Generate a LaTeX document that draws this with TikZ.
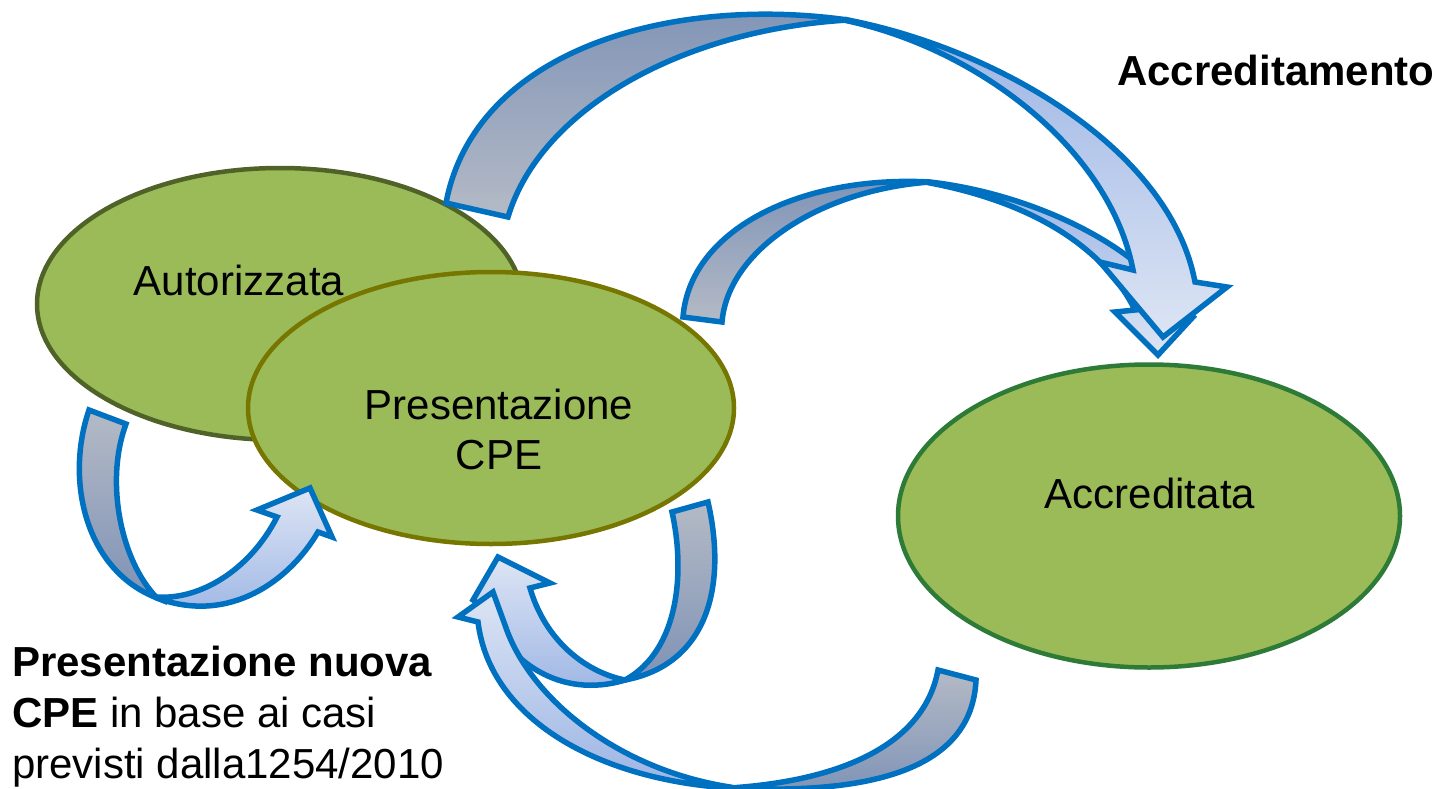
\documentclass[tikz,border=0pt]{standalone}
\usepackage{fontspec}
\setmainfont{Liberation Sans}
\usetikzlibrary{shapes.geometric}

\definecolor{stategreen}{HTML}{9BBB59}
\definecolor{autedge}{HTML}{4F6228}
\definecolor{cpeedge}{HTML}{767600}
\definecolor{accedge}{HTML}{2E7B38}
\definecolor{ribbonblue}{HTML}{0070C0}
\definecolor{backdark}{HTML}{7F93B6}
\definecolor{backlight}{HTML}{B4BAC6}
\definecolor{frontdark}{HTML}{9BB4E4}
\definecolor{frontlight}{HTML}{DDE5F4}

\tikzset{
  state/.style={ellipse, fill=stategreen, line width=4.5pt, minimum width=486pt, minimum height=272pt, inner sep=0pt},
  lbl/.style={font=\fontsize{42}{51}\selectfont, inner sep=0pt, anchor=base},
  ribbon/.style={draw=ribbonblue, line width=5.5pt, line join=miter}
}

\begin{document}
\begin{tikzpicture}[x=1pt, y=-1pt]

    % cornice dell'immagine (coordinate in pixel, y verso il basso)
    \useasboundingbox (0,0) rectangle (1440,789);

    % stati
    \node[state, draw=autedge] (autorizzata) at (280,304) {};
    \node[state, draw=cpeedge] (cpe) at (491,408) {};
    \node[state, draw=accedge, minimum width=502pt, minimum height=303pt] (accreditata) at (1149,516) {};

    % testi degli stati
    \node[lbl] (autlbl) at (239,295) {Autorizzata};
    \node[lbl] (cpelbl1) at (499,419) {Presentazione};
    \node[lbl] (cpelbl2) at (499,469) {CPE};
    \node[lbl] (acclbl) at (1150,508) {Accreditata};

    % freccia media: CPE -> Accreditata
    \path[ribbon, top color=backdark, bottom color=backlight]
      (683,317) .. controls (690,230) and (800,175) .. (930,182)
      .. controls (820,190) and (728,250) .. (722,322) -- cycle;
    \path[ribbon, top color=frontdark, bottom color=frontlight]
      (930,182) .. controls (1040,195) and (1140,250) .. (1170,300)
      -- (1193,317) -- (1158,355) -- (1115,312) -- (1135,310)
      .. controls (1100,240) and (1020,200) .. (930,183) -- cycle;

    % freccia grande: Autorizzata -> Accreditata
    \path[ribbon, top color=backdark, bottom color=backlight]
      (446,203) .. controls (475,50) and (670,-5) .. (848,20)
      .. controls (680,30) and (540,110) .. (508,217) -- cycle;
    \path[ribbon, top color=frontdark, bottom color=frontlight]
      (848,20) .. controls (1000,50) and (1170,150) .. (1195,282)
      -- (1227,287) -- (1163,337) -- (1100,262) -- (1133,270)
      .. controls (1110,150) and (980,50) .. (848,21) -- cycle;

    % anello a sinistra: Autorizzata -> CPE
    \path[ribbon, top color=backlight, bottom color=backdark]
      (89,410) .. controls (65,480) and (85,570) .. (157,598)
      .. controls (120,560) and (105,480) .. (126,424) -- cycle;
    \path[ribbon, top color=frontlight, bottom color=frontdark]
      (157,598) .. controls (230,625) and (290,580) .. (318,532)
      -- (332,537) -- (310,488) -- (257,510) -- (277,517)
      .. controls (250,570) and (200,600) .. (157,597) -- cycle;

    % anello sotto CPE: CPE -> CPE
    \path[ribbon, top color=backlight, bottom color=backdark]
      (708,502) .. controls (728,590) and (705,665) .. (625,680)
      .. controls (680,650) and (685,570) .. (672,512) -- cycle;
    \path[ribbon, top color=frontlight, bottom color=frontdark]
      (625,680) .. controls (560,700) and (505,660) .. (488,610)
      -- (473,600) -- (498,557) -- (550,583) -- (530,588)
      .. controls (545,640) and (585,672) .. (625,680) -- cycle;

    % freccia in basso: Accreditata -> CPE
    \path[ribbon, top color=backlight, bottom color=backdark]
      (976,680) .. controls (972,770) and (870,795) .. (730,788)
      .. controls (850,780) and (925,740) .. (938,670) -- cycle;
    \path[ribbon, top color=frontlight, bottom color=frontdark]
      (730,788) .. controls (600,780) and (490,720) .. (478,622)
      -- (458,617) -- (493,592) -- (505,625)
      .. controls (530,700) and (620,770) .. (730,787) -- cycle;

    % didascalie
    \node[lbl, anchor=base west, font=\fontsize{42}{51}\selectfont\bfseries] (accreditamento) at (1117,86) {Accreditamento};
    \node[lbl, anchor=base west] (nota1) at (12,676) {\textbf{Presentazione nuova}};
    \node[lbl, anchor=base west] (nota2) at (12,727) {\textbf{CPE} in base ai casi};
    \node[lbl, anchor=base west] (nota3) at (12,778) {previsti dalla1254/2010};

\end{tikzpicture}
\end{document}
